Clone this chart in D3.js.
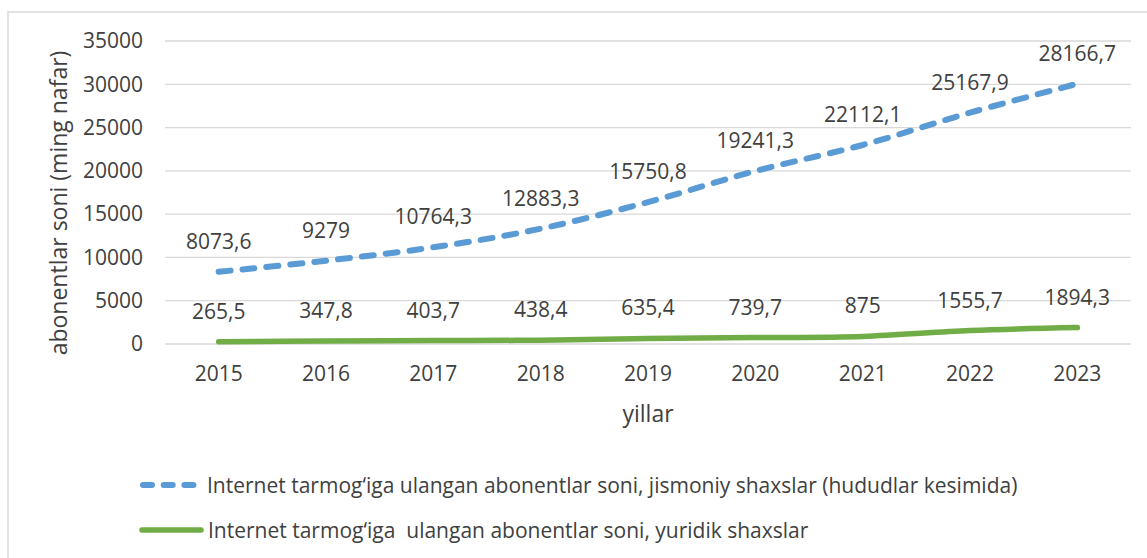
<!DOCTYPE html>
<html lang="uz">
<head>
<meta charset="UTF-8">
<title>Internet abonentlar soni</title>
<style>
  body { margin: 0; background: #fff; }
  svg text { font-family: "Open Sans", sans-serif; fill: #404040; }
</style>
</head>
<body>
<svg id="chart" width="1147" height="558"></svg>
<script src="https://d3js.org/d3.v7.min.js"></script>
<script>
// data (ming nafar)
var years = ["2015", "2016", "2017", "2018", "2019", "2020", "2021", "2022", "2023"];
var yuridik = [265.5, 347.8, 403.7, 438.4, 635.4, 739.7, 875, 1555.7, 1894.3];
var jismoniy = [8073.6, 9279, 10764.3, 12883.3, 15750.8, 19241.3, 22112.1, 25167.9, 28166.7];
var yTicks = [0, 5000, 10000, 15000, 20000, 25000, 30000, 35000];
var seriesNames = [
  "Internet tarmog\u2018iga ulangan abonentlar soni, jismoniy shaxslar (hududlar kesimida)",
  "Internet tarmog\u2018iga  ulangan abonentlar soni, yuridik shaxslar"
];

var svg = d3.select("#chart");
var width = 1147, height = 558;
var margin = { top: 41, right: 16, bottom: 214, left: 165 };

// chart area border (right/bottom edges run off the picture)
svg.append("rect")
  .attr("x", 8).attr("y", 12)
  .attr("width", 1160).attr("height", 560)
  .attr("fill", "none")
  .attr("stroke", "#d9d9d9")
  .attr("stroke-width", 1.5);

var x = d3.scaleBand()
  .domain(years)
  .range([margin.left, width - margin.right]);

var y = d3.scaleLinear()
  .domain([0, 35000])
  .range([height - margin.bottom, margin.top]);

// stacked line chart: jismoniy sits on top of yuridik
var table = years.map(function(yr, i) {
  return { year: yr, yuridik: yuridik[i], jismoniy: jismoniy[i] };
});
var stack = d3.stack().keys(["yuridik", "jismoniy"]);
var layers = stack(table);

// grid
svg.append("g")
  .selectAll("line")
  .data(yTicks)
  .enter().append("line")
  .attr("x1", margin.left)
  .attr("x2", width - margin.right)
  .attr("y1", function(d) { return y(d); })
  .attr("y2", function(d) { return y(d); })
  .attr("stroke", "#d9d9d9")
  .attr("stroke-width", 1.3);

// y axis labels
var yAxis = d3.axisLeft(y).tickValues(yTicks).tickSize(0).tickPadding(22)
  .tickFormat(d3.format("d"));
var gy = svg.append("g")
  .attr("transform", "translate(" + margin.left + ",0)")
  .call(yAxis);
gy.select(".domain").remove();
gy.selectAll("text")
  .style("font-family", "Open Sans, sans-serif")
  .style("font-size", "21px")
  .attr("fill", "#595959");

// x axis labels
var xAxis = d3.axisBottom(x).tickSize(0).tickPadding(22);
var gx = svg.append("g")
  .attr("transform", "translate(0," + y(0) + ")")
  .call(xAxis);
gx.select(".domain").remove();
gx.selectAll("text")
  .style("font-family", "Open Sans, sans-serif")
  .style("font-size", "21px")
  .attr("fill", "#595959");

// axis titles
svg.append("text")
  .attr("transform", "translate(58,203) rotate(-90)")
  .attr("text-anchor", "middle")
  .attr("dominant-baseline", "central")
  .style("font-size", "23px")
  .attr("fill", "#595959")
  .text("abonentlar soni (ming nafar)");

svg.append("text")
  .attr("x", (margin.left + width - margin.right) / 2)
  .attr("y", 413)
  .attr("text-anchor", "middle")
  .attr("dominant-baseline", "central")
  .style("font-size", "23px")
  .attr("fill", "#595959")
  .text("yillar");

var line = d3.line()
  .x(function(d) { return x(d.data.year) + x.bandwidth() / 2; })
  .y(function(d) { return y(d[1]); })
  .curve(d3.curveCatmullRom.alpha(0.5));

// yuridik (green, solid)
svg.append("path")
  .datum(layers[0])
  .attr("d", line)
  .attr("fill", "none")
  .attr("stroke", "#70ad47")
  .attr("stroke-width", 5.5)
  .attr("stroke-linecap", "round");

// jismoniy (blue, dashed)
svg.append("path")
  .datum(layers[1])
  .attr("d", line)
  .attr("fill", "none")
  .attr("stroke", "#5b9bd5")
  .attr("stroke-width", 6)
  .attr("stroke-linecap", "round")
  .attr("stroke-dasharray", "12,12");

// data labels (original values, above each point)
var fmt = function(v) { return String(v).replace(".", ","); };
layers.forEach(function(layer, k) {
  var vals = k === 0 ? yuridik : jismoniy;
  svg.append("g")
    .selectAll("text")
    .data(layer)
    .enter().append("text")
    .attr("x", function(d) { return x(d.data.year) + x.bandwidth() / 2; })
    .attr("y", function(d) { return y(d[1]) - 31; })
    .attr("text-anchor", "middle")
    .attr("dominant-baseline", "central")
    .style("font-size", "21px")
    .attr("fill", "#404040")
    .text(function(d, i) { return fmt(vals[i]); });
});

// legend
var legend = svg.append("g");
legend.append("line")
  .attr("x1", 143).attr("x2", 194)
  .attr("y1", 485).attr("y2", 485)
  .attr("stroke", "#5b9bd5")
  .attr("stroke-width", 6)
  .attr("stroke-linecap", "round")
  .attr("stroke-dasharray", "9,11.7");
legend.append("text")
  .attr("x", 207).attr("y", 485)
  .attr("dominant-baseline", "central")
  .style("font-size", "21px")
  .attr("fill", "#595959")
  .text(seriesNames[0]);

legend.append("line")
  .attr("x1", 142).attr("x2", 201)
  .attr("y1", 530).attr("y2", 530)
  .attr("stroke", "#70ad47")
  .attr("stroke-width", 5.5)
  .attr("stroke-linecap", "round");
legend.append("text")
  .attr("x", 208).attr("y", 530)
  .attr("dominant-baseline", "central")
  .style("font-size", "21px")
  .style("white-space", "pre")
  .attr("fill", "#595959")
  .text(seriesNames[1]);
</script>
</body>
</html>
